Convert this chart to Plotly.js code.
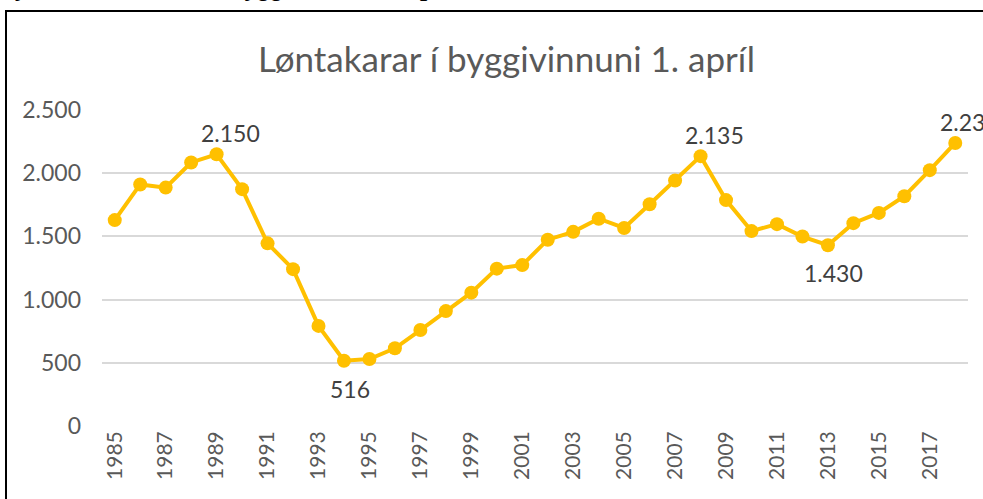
<!DOCTYPE html>
<html>
<head>
<meta charset="utf-8">
<script src="https://cdn.plot.ly/plotly-3.0.1.min.js"></script>
<style>html,body{margin:0;padding:0;background:#fff;}#chart{width:983px;height:499px;}</style>
</head>
<body>
<div id="chart"></div>
<script>
const years = ["1985","1986","1987","1988","1989","1990","1991","1992","1993","1994","1995","1996","1997","1998","1999","2000","2001","2002","2003","2004","2005","2006","2007","2008","2009","2010","2011","2012","2013","2014","2015","2016","2017","2018"];
const workers = [1629,1911,1886,2085,2150,1874,1445,1241,792,516,530,615,759,909,1055,1245,1273,1474,1536,1640,1567,1754,1942,2135,1787,1542,1597,1499,1430,1605,1686,1818,2024,2239];
const labelYears = ["1989","1994","2008","2013","2018"];
const labelSide = ["above","below","above","below","above"];
const tickYears = ["1985","1987","1989","1991","1993","1995","1997","1999","2001","2003","2005","2007","2009","2011","2013","2015","2017"];
const titleText = "Løntakarar í byggivinnuni 1. apríl";
const captionText = "Mynd 3: Løntakarar í byggivinnuni 1. apríl, 1985-2018";

function fmt(v){ return String(v).replace(/\B(?=(\d{3})+(?!\d))/g, "."); }

const W = 983, H = 499, L = 102, R = 15, T = 110, B = 73;
const pw = W - L - R, ph = H - T - B;
const px2x = p => (p - L) / pw;
const py2y = p => 1 - (p - T) / ph;
const FONT = "Lato, 'Open Sans', sans-serif";

const annotations = labelYears.map((y, i) => {
  const idx = years.indexOf(y);
  const above = labelSide[i] === "above";
  return {
    x: idx, y: workers[idx], xref: "x", yref: "y",
    text: fmt(workers[idx]), showarrow: false,
    xanchor: "center", yanchor: "middle",
    xshift: above ? 14 : 6, yshift: above ? 21 : -28,
    font: {family: FONT, size: 23, color: "#404040"}
  };
});
annotations.push({
  x: px2x(506), y: py2y(58), xref: "paper", yref: "paper",
  text: titleText, showarrow: false, xanchor: "center", yanchor: "middle",
  font: {family: FONT, size: 35, color: "#595959"}
});
annotations.push({
  x: px2x(-8), y: py2y(-12), xref: "paper", yref: "paper",
  text: "<b><i>" + captionText + "</i></b>", showarrow: false, xanchor: "left", yanchor: "middle",
  font: {family: "'Liberation Serif', serif", size: 26, color: "#000"}
});

const trace = {
  x: years, y: workers, type: "scatter", mode: "lines+markers",
  line: {color: "#FFC000", width: 4},
  marker: {color: "#FFC000", size: 14},
  hoverinfo: "x+y", cliponaxis: false
};

const layout = {
  width: W, height: H,
  margin: {l: L, r: R, t: T, b: B, pad: 0},
  paper_bgcolor: "#fff", plot_bgcolor: "#fff",
  separators: ",.",
  showlegend: false,
  xaxis: {
    type: "category", range: [-0.5, years.length - 0.5],
    tickmode: "array", tickvals: tickYears, ticktext: tickYears,
    tickangle: -90, showgrid: false, zeroline: false, showline: false, ticks: "",
    tickfont: {family: FONT, size: 21, color: "#595959"},
    fixedrange: true
  },
  yaxis: {
    range: [0, 2500], dtick: 500, tickformat: ",d",
    showgrid: true, gridcolor: "#D9D9D9", gridwidth: 2,
    zeroline: false, showline: false, ticks: "", ticklabelstandoff: 20,
    tickfont: {family: FONT, size: 23, color: "#595959"},
    fixedrange: true
  },
  annotations: annotations,
  shapes: [{
    type: "rect", xref: "paper", yref: "paper",
    x0: px2x(6), x1: px2x(1100), y0: py2y(11), y1: py2y(600),
    line: {color: "#000", width: 2}, fillcolor: "rgba(0,0,0,0)", layer: "below"
  }]
};

Plotly.newPlot("chart", [trace], layout, {displayModeBar: false, staticPlot: true});
</script>
</body>
</html>
